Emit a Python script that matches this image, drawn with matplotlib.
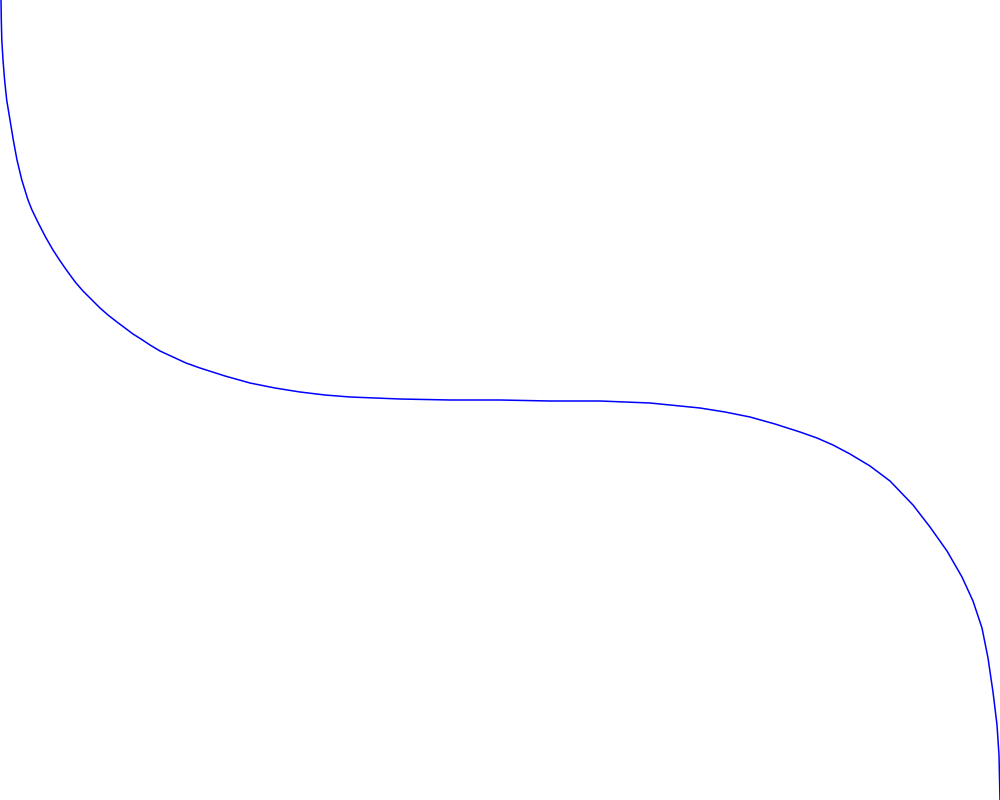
import matplotlib
matplotlib.use("Agg")
import matplotlib.pyplot as plt

# points (pixel-like units, y grows downward)
curve_x = [1, 1.3, 1.8, 3.0, 4.6, 6.7, 10, 13.3, 17, 21.8, 28,
           32, 38.3, 45.5, 53, 59.5, 65, 71.5, 76, 83, 91,
           100, 108, 117, 125, 133, 141, 150, 160, 173, 186,
           200, 225, 250, 275, 300, 325, 350, 375, 400, 450,
           500, 550, 600, 650, 700, 725, 750, 775, 800, 817,
           833, 850, 870, 890, 913, 930, 947, 962, 973, 982,
           988, 993, 997, 999, 1000]
curve_y = [0, 20, 40, 60, 80, 100, 120, 140, 160, 180, 200,
           210, 223, 237, 250, 260, 268, 277, 283, 291, 299,
           308, 315, 322, 328, 334, 339, 345, 351, 357, 363,
           368, 376, 383, 388, 392, 395, 397, 398, 399, 400,
           400, 401, 401, 403, 408, 412, 417, 424, 432, 438,
           445, 454, 466, 481, 505, 527, 551, 577, 601, 628,
           658, 692, 725, 755, 800]

fig = plt.figure(figsize=(10, 8), dpi=100)
ax = fig.add_axes([0, 0, 1, 1])
ax.plot(curve_x, curve_y, color="#0000ff", linewidth=1.1, solid_joinstyle="round")
ax.set_xlim(0, 1000)
ax.set_ylim(800, 0)
ax.axis("off")

fig.savefig("out.png", dpi=100)
